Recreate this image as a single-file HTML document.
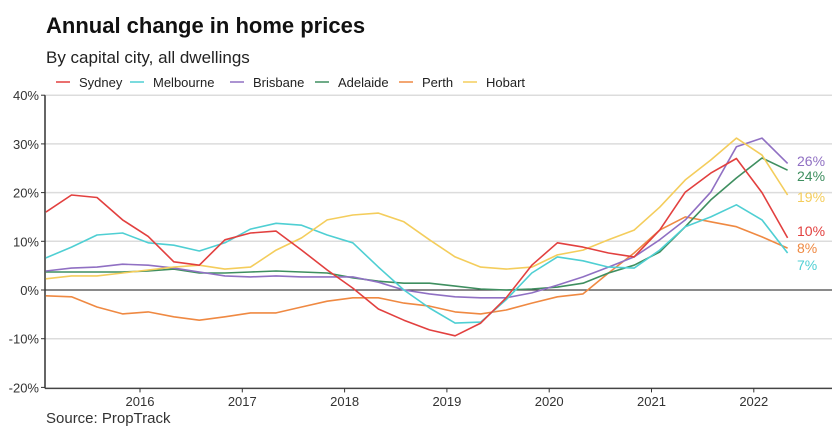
<!DOCTYPE html>
<html><head><meta charset="utf-8"><style>
body{margin:0;background:#fff;font-family:"Liberation Sans",sans-serif;}
#wrap{position:relative;width:838px;height:443px;overflow:hidden;}
</style></head><body>
<div id="wrap">
<svg id="chart" width="838" height="443" style="position:absolute;left:0;top:0;font-family:'Liberation Sans',sans-serif">
<text x="46" y="33" font-size="22" font-weight="bold" fill="#111">Annual change in home prices</text>
<text x="46" y="63" font-size="17" fill="#222">By capital city, all dwellings</text>
<text x="46" y="423" font-size="15" fill="#333">Source: PropTrack</text>
<g id="legend"></g>
<g id="grid"></g>
<g id="axes"></g>
<g id="lines"></g>
<g id="labels"></g>
</svg>
</div>
<script>
const dates = [2015.08,2015.33,2015.58,2015.83,2016.08,2016.33,2016.58,2016.83,2017.08,2017.33,2017.58,2017.83,2018.08,2018.33,2018.58,2018.83,2019.08,2019.33,2019.58,2019.83,2020.08,2020.33,2020.58,2020.83,2021.08,2021.33,2021.58,2021.83,2022.08,2022.33];
const seriesNames = ["Sydney","Melbourne","Brisbane","Adelaide","Perth","Hobart"];
const sydney = [16,19.5,19,14.4,11,5.8,5.1,10.3,11.7,12.1,8.2,4.1,0.4,-3.9,-6.2,-8.2,-9.4,-6.8,-1.6,5.1,9.7,8.8,7.6,6.8,12.3,20.1,24,27,20,10.7];
const melbourne = [6.6,8.8,11.3,11.7,9.7,9.2,8,9.7,12.5,13.7,13.3,11.3,9.7,4.7,0,-3.7,-6.8,-6.6,-2,3.5,6.8,6,4.7,4.5,8.2,13,15,17.5,14.4,7.6];
const brisbane = [3.9,4.5,4.7,5.3,5.1,4.5,3.7,2.9,2.7,2.9,2.7,2.7,2.7,1.6,0,-0.8,-1.4,-1.6,-1.6,-0.6,1,2.7,4.7,6.8,10.3,14.4,20.1,29.4,31.2,26];
const adelaide = [3.7,3.7,3.7,3.7,3.9,4.3,3.5,3.5,3.7,3.9,3.7,3.5,2.5,1.8,1.4,1.4,0.8,0.2,0,0.2,0.6,1.4,3.5,5.1,7.8,13,18.5,23,27.1,24.6];
const perth = [-1.2,-1.4,-3.5,-4.9,-4.5,-5.5,-6.2,-5.5,-4.7,-4.7,-3.5,-2.3,-1.6,-1.6,-2.7,-3.3,-4.5,-4.9,-4.1,-2.7,-1.4,-0.8,3.5,7.6,12.3,15,14,13,10.9,8.6];
const hobart = [2.3,2.9,2.9,3.5,4.1,4.7,5.1,4.3,4.7,8.2,10.7,14.4,15.4,15.8,14,10.3,6.8,4.7,4.3,4.7,7.2,8.2,10.3,12.3,17,22.6,26.7,31.2,27.7,19.5];
const yTicks = [40,30,20,10,0,-10,-20];
const xTicks = [2016,2017,2018,2019,2020,2021,2022];
const endLabels = ["26%","24%","19%","10%","8%","7%"];

const colors = {Sydney:"#e2403f",Melbourne:"#4fcfd3",Brisbane:"#9070c3",Adelaide:"#3f8f60",Perth:"#ef8942",Hobart:"#f4cd5c"};
const ns="http://www.w3.org/2000/svg";
const X0=45,X1=832;
function xs(t){return 140+(t-2016)*102.3;}
function ys(v){return 290-v*4.87;}
function mk(tag,attrs,parent){const e=document.createElementNS(ns,tag);for(const k in attrs)e.setAttribute(k,attrs[k]);parent.appendChild(e);return e;}
const grid=document.getElementById('grid'),axes=document.getElementById('axes'),lines=document.getElementById('lines'),labels=document.getElementById('labels'),legend=document.getElementById('legend');
yTicks.forEach(v=>{
  if(v!==-20&&v!==0){const l=mk('line',{x1:X0,x2:X1,y1:ys(v),y2:ys(v),stroke:'#dcdcdc','stroke-width':1.5},grid);
  
  }
  const tk=mk('line',{x1:X0-4,x2:X0,y1:ys(v),y2:ys(v),stroke:'#333','stroke-width':1},axes);
  
  
  const t=mk('text',{x:X0-6,y:ys(v)+5,'text-anchor':'end','font-size':13,fill:'#333'},axes);
  t.textContent=v+'%';
  
  
});
const zl=mk('line',{x1:X0,x2:X1,y1:ys(0),y2:ys(0),stroke:'#444','stroke-width':1.2},axes);


const ya=mk('line',{x1:X0,x2:X0,y1:ys(40),y2:ys(-20)+1,stroke:'#333','stroke-width':1.5},axes);


const xa=mk('line',{x1:X0,x2:X1,y1:ys(-20)+1,y2:ys(-20)+1,stroke:'#444','stroke-width':1.5},axes);


xTicks.forEach(yr=>{
  const tk=mk('line',{x1:xs(yr),x2:xs(yr),y1:ys(-20)+1,y2:ys(-20)+5,stroke:'#333'},axes);
  
  
  const t=mk('text',{x:xs(yr),y:406,'text-anchor':'middle','font-size':13,fill:'#333'},axes);
  t.textContent=yr;
  
  
});
const data={Sydney:sydney,Melbourne:melbourne,Brisbane:brisbane,Adelaide:adelaide,Perth:perth,Hobart:hobart};
const order=["Perth","Adelaide","Brisbane","Melbourne","Hobart","Sydney"];
order.forEach(n=>{
  const d=data[n].map((v,i)=>(i?'L':'M')+xs(dates[i]).toFixed(1)+','+ys(v).toFixed(1)).join(' ');
  const p=mk('path',{d:d,fill:'none',stroke:colors[n],'stroke-width':1.6,'stroke-linejoin':'round'},lines);
  
  
});
const labelOrder=["Brisbane","Adelaide","Hobart","Sydney","Perth","Melbourne"];
const labelY=[161,176,197,231,248,265];
labelOrder.forEach((n,i)=>{
  const t=mk('text',{x:797,y:labelY[i]+5,'font-size':14,fill:colors[n]},labels);
  t.textContent=endLabels[i];
  
  
});
const legX=[56,130,230,315,399,463];
seriesNames.forEach((n,i)=>{
  const g=mk('g',{},legend);
  
  
  mk('line',{x1:legX[i],x2:legX[i]+14,y1:82,y2:82,stroke:colors[n],'stroke-width':1.5},g);
  const t=mk('text',{x:legX[i]+23,y:87,'font-size':13,fill:'#222'},g);
  t.textContent=n;
});
</script>
</body></html>
